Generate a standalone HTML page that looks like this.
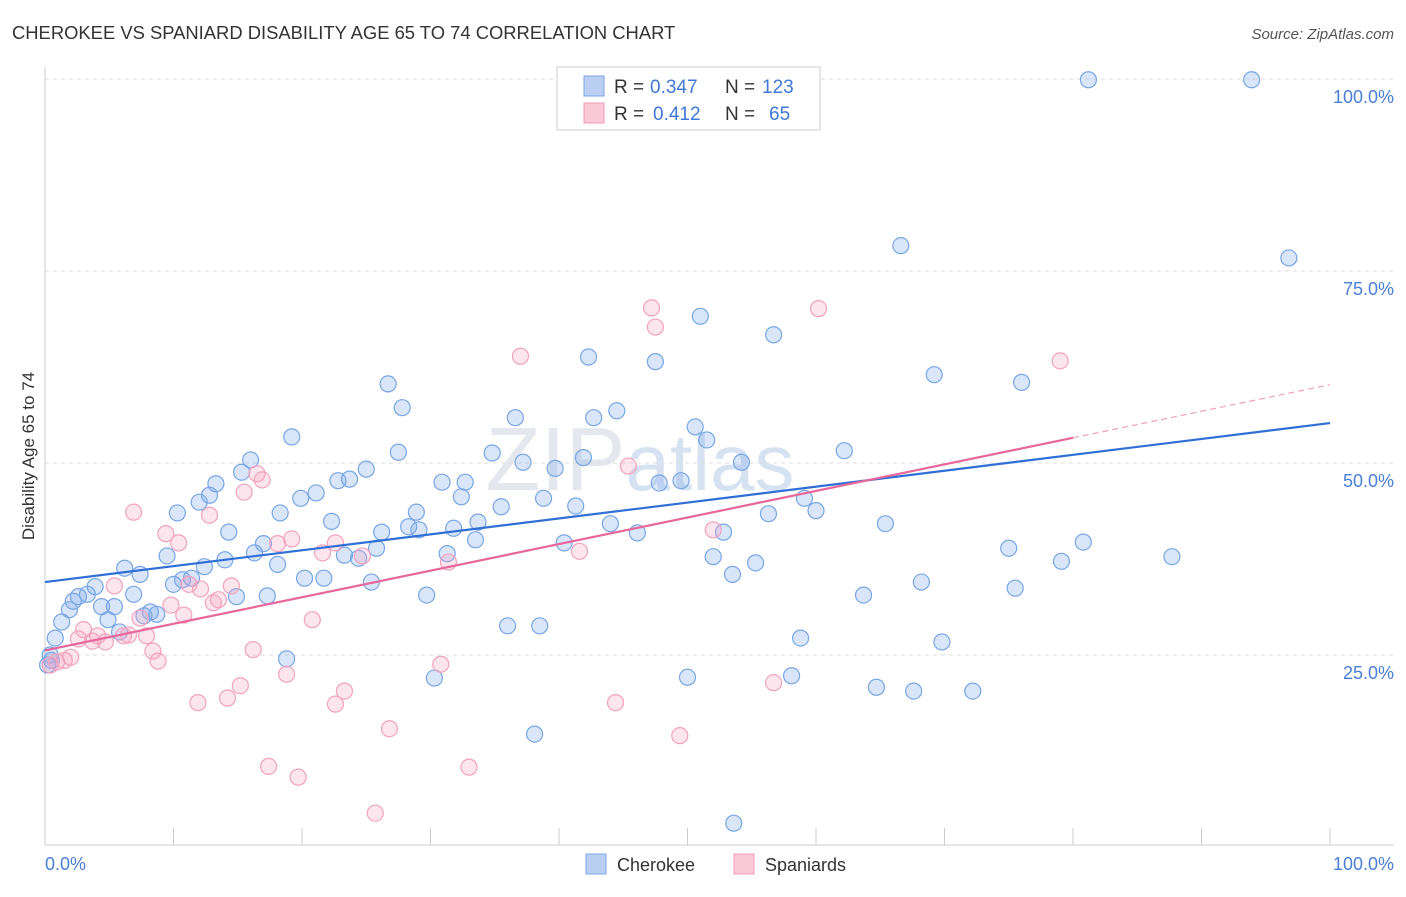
<!DOCTYPE html>
<html><head><meta charset="utf-8"><style>
body{margin:0;background:#fff;font-family:"Liberation Sans",sans-serif}
svg text{font-family:"Liberation Sans",sans-serif}
</style></head><body>
<svg id="chart" width="1406" height="892">
<text x="12" y="39" font-size="18.4" fill="#333">CHEROKEE VS SPANIARD DISABILITY AGE 65 TO 74 CORRELATION CHART</text>
<text x="1394" y="39" font-size="15" fill="#555" text-anchor="end" font-style="italic">Source: ZipAtlas.com</text>
<text x="640" y="490" font-size="90" fill="#e4e8ee" text-anchor="middle" font-family="Liberation Serif">ZIP<tspan fill="#d6e2f2" font-family="Liberation Sans" font-size="80">atlas</tspan></text>
<g id="grid"></g>
<g id="axes"></g>
<g id="marks"></g>
<text transform="translate(34,456) rotate(-90)" font-size="17" fill="#333" text-anchor="middle">Disability Age 65 to 74</text>
<text x="45" y="870" font-size="18" fill="#4a7fd6">0.0%</text>
<text x="1394" y="870" font-size="18" fill="#4a7fd6" text-anchor="end">100.0%</text>
<g>
<rect x="557" y="67" width="263" height="63" fill="#fff" stroke="#ccc"/>
<rect x="584" y="76" width="20" height="20" fill="#b9d0f2" stroke="#7aa6e6"/>
<rect x="584" y="103" width="20" height="20" fill="#f9c9d8" stroke="#f09ab6"/>
<text x="614" y="93" font-size="19" fill="#333">R =</text>
<text x="650" y="93" font-size="19" fill="#3f78d8">0.347</text>
<text x="725" y="93" font-size="19" fill="#333">N =</text>
<text x="762" y="93" font-size="19" fill="#3f78d8">123</text>
<text x="614" y="120" font-size="19" fill="#333">R =</text>
<text x="653" y="120" font-size="19" fill="#3f78d8">0.412</text>
<text x="725" y="120" font-size="19" fill="#333">N =</text>
<text x="769" y="120" font-size="19" fill="#3f78d8">65</text>
</g>
<g>
<rect x="586" y="854" width="20" height="20" fill="#b9d0f2" stroke="#7aa6e6"/>
<text x="617" y="871" font-size="18" fill="#333">Cherokee</text>
<rect x="734" y="854" width="20" height="20" fill="#f9c9d8" stroke="#f09ab6"/>
<text x="765" y="871" font-size="18" fill="#333">Spaniards</text>
</g>
</svg>
<script>
const yTicks=[25,50,75,100];
const yTickLabels=["25.0%","50.0%","75.0%","100.0%"];
const xTicks=[10,20,30,40,50,60,70,80,90,100];
const cherokeeX=[81.2,93.9,66.6,96.8,51.0,56.7,42.3,47.5,69.2,76.0,26.7,27.8,36.6,44.5,42.7,50.6,51.5,19.2,27.5,34.8,37.2,39.7,41.9,54.2,62.2,16.0,15.3,25.0,23.7,22.8,13.3,12.8,12.0,10.3,21.1,19.9,30.9,32.7,32.4,38.8,41.3,35.5,47.8,49.5,59.1,60.0,56.3,65.4,18.3,22.3,14.3,26.2,28.3,29.1,28.9,31.8,33.7,33.5,44.0,46.1,40.4,52.8,52.0,55.3,53.5,75.0,80.8,79.1,87.7,31.3,25.8,23.3,24.4,16.3,17.0,18.1,20.2,21.7,25.4,14.0,12.4,9.5,7.4,6.2,10.0,10.7,11.4,14.9,17.3,29.7,6.9,3.9,3.3,2.6,2.2,1.9,4.4,5.4,8.2,8.7,7.7,4.9,1.3,0.8,68.2,63.7,75.5,36.0,38.5,58.8,69.8,5.8,18.8,30.3,50.0,58.1,64.7,67.6,72.2,38.1,53.6,0.4,0.5,0.2];
const cherokeeY=[99.9,99.9,78.3,76.7,69.1,66.7,63.8,63.2,61.5,60.5,60.3,57.2,55.9,56.8,55.9,54.7,53.0,53.4,51.4,51.3,50.1,49.3,50.7,50.1,51.6,50.4,48.8,49.2,47.9,47.7,47.3,45.8,44.9,43.5,46.1,45.4,47.5,47.5,45.6,45.4,44.4,44.3,47.4,47.7,45.4,43.8,43.4,42.1,43.5,42.4,41.0,41.0,41.7,41.3,43.6,41.5,42.3,40.0,42.1,40.9,39.6,41.0,37.8,37.0,35.5,38.9,39.7,37.2,37.8,38.2,38.9,38.0,37.6,38.3,39.5,36.8,35.0,35.0,34.5,37.4,36.5,37.9,35.5,36.3,34.2,34.8,35.0,32.6,32.7,32.8,32.9,33.9,32.9,32.6,32.0,30.9,31.3,31.3,30.6,30.3,30.1,29.6,29.3,27.2,34.5,32.8,33.7,28.8,28.8,27.2,26.7,28.0,24.5,22.0,22.1,22.3,20.8,20.3,20.3,14.7,3.1,25.0,24.3,23.7];
const spaniardX=[47.2,60.2,47.5,37.0,79.0,45.4,16.5,16.9,15.5,6.9,12.8,9.4,10.4,18.1,19.2,22.6,24.7,21.6,31.4,52.0,41.6,5.4,11.2,14.5,12.1,13.5,13.1,9.8,10.8,7.4,20.8,3.0,4.1,2.6,3.7,4.7,6.5,6.1,7.9,8.4,8.8,2.0,1.5,0.9,0.4,16.2,30.8,18.8,15.2,23.3,11.9,14.2,22.6,44.4,56.7,26.8,49.4,17.4,19.7,33.0,25.7];
const spaniardY=[70.2,70.1,67.7,63.9,63.3,49.6,48.6,47.8,46.2,43.6,43.2,40.8,39.6,39.5,40.1,39.6,37.9,38.3,37.1,41.3,38.5,34.0,34.2,34.0,33.6,32.2,31.8,31.5,30.2,29.8,29.6,28.3,27.5,27.1,26.8,26.7,27.6,27.5,27.5,25.5,24.2,24.7,24.3,24.1,23.7,25.7,23.8,22.5,21.0,20.3,18.8,19.4,18.6,18.8,21.4,15.4,14.5,10.5,9.1,10.4,4.4];
const cherokeeTrend=[34.5,55.2];
const spaniardTrend=[25.6,60.2];
const spaniardSolidEnd=80;

const NS="http://www.w3.org/2000/svg";
const X0=45,X1=1330,Y0=847,Y100=79;
function sx(v){return X0+(X1-X0)*v/100;}
function sy(v){return Y0-(Y0-Y100)*v/100;}
function mk(tag,attrs,parent){const e=document.createElementNS(NS,tag);for(const k in attrs)e.setAttribute(k,attrs[k]);parent.appendChild(e);return e;}
const grid=document.getElementById('grid'),axes=document.getElementById('axes'),marks=document.getElementById('marks');
yTicks.forEach((t,i)=>{
 const l=mk('line',{x1:45,x2:1394,y1:sy(t),y2:sy(t),stroke:'#ddd','stroke-dasharray':'4,4'},grid);
 
 
 const tx=mk('text',{x:1394,y:sy(t)+24,'font-size':18,fill:'#4a7fd6','text-anchor':'end'},grid);
 tx.textContent=yTickLabels[i];
 
 
});
const ya=mk('line',{x1:45,x2:45,y1:67,y2:845,stroke:'#ccc'},axes);


const xa=mk('line',{x1:45,x2:1394,y1:845,y2:845,stroke:'#ccc'},axes);


xTicks.forEach(t=>{
 const l=mk('line',{x1:sx(t),x2:sx(t),y1:828,y2:845,stroke:'#ccc'},axes);
 
 
});
function dots(xs,ys,fill,stroke,name){
 xs.forEach((x,i)=>{
  const c=mk('circle',{cx:sx(x),cy:sy(ys[i]),r:8,fill:fill,stroke:stroke,'stroke-width':1.2},marks);
  
  
 });
}
dots(cherokeeX,cherokeeY,'rgba(120,165,235,0.28)','#78a6e6','cherokee-point');
dots(spaniardX,spaniardY,'rgba(245,160,190,0.28)','#f2a2bd','spaniard-point');
const bl=mk('line',{x1:sx(0),y1:sy(cherokeeTrend[0]),x2:sx(100),y2:sy(cherokeeTrend[1]),stroke:'#2f6fd6','stroke-width':2.2},marks);


const pm=spaniardTrend[0]+(spaniardTrend[1]-spaniardTrend[0])*spaniardSolidEnd/100;
const pl=mk('line',{x1:sx(0),y1:sy(spaniardTrend[0]),x2:sx(spaniardSolidEnd),y2:sy(pm),stroke:'#e8679a','stroke-width':2.2},marks);


const pd=mk('line',{x1:sx(spaniardSolidEnd),y1:sy(pm),x2:sx(100),y2:sy(spaniardTrend[1]),stroke:'#eea0bc','stroke-width':1.2,'stroke-dasharray':'6,4'},marks);


</script>
</body></html>
